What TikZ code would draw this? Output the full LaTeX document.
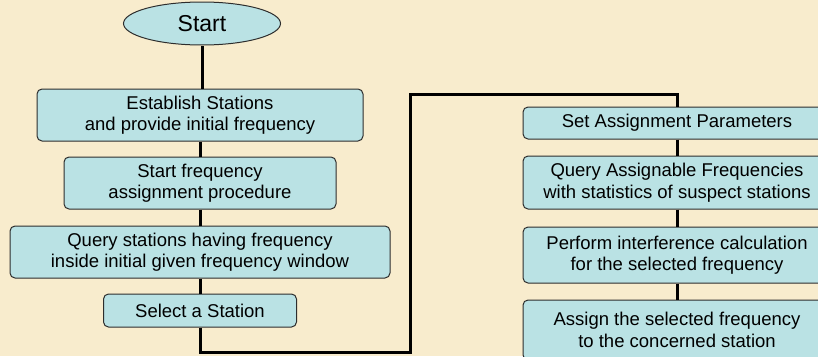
\documentclass[tikz,border=0pt]{standalone}
\usepackage{fontspec}
\setmainfont{Liberation Sans}
\usetikzlibrary{shapes.geometric}
\definecolor{bg}{RGB}{248,236,205}
\definecolor{boxfill}{RGB}{186,226,228}
\definecolor{boxline}{RGB}{45,45,45}
\tikzset{
  stepbox/.style={draw=boxline, line width=1pt, fill=boxfill, rounded corners=5pt,
    align=center, inner sep=0pt, font=\fontsize{18.5pt}{21.5pt}\selectfont},
  link/.style={line width=3pt, draw=black}
}
\begin{document}
\begin{tikzpicture}[x=1pt,y=-1pt]
\useasboundingbox (0,0) rectangle (818,356);
\clip (0,0) rectangle (818,356);
\fill[bg] (0,0) rectangle (818,356);
% left column
\node[ellipse, draw=boxline, line width=1pt, fill=boxfill, minimum width=157pt, minimum height=43pt, inner sep=0pt, font=\fontsize{23pt}{26pt}\selectfont] (start) at (202,23.5) {Start};
\node[stepbox, minimum width=326pt, minimum height=52pt] (b1) at (200,115) {Establish Stations\\and provide initial frequency};
\node[stepbox, minimum width=272pt, minimum height=52pt] (b2) at (200,183) {Start frequency\\assignment procedure};
\node[stepbox, minimum width=380pt, minimum height=52pt] (b3) at (200,252) {Query stations having frequency\\inside initial given frequency window};
\node[stepbox, minimum width=193pt, minimum height=33pt] (b4) at (200,310.5) {Select a Station};
% right column
\node[stepbox, minimum width=308pt, minimum height=32pt] (b5) at (677,123) {Set Assignment Parameters};
\node[stepbox, minimum width=308pt, minimum height=53pt] (b6) at (677,182.5) {Query Assignable Frequencies\\with statistics of suspect stations};
\node[stepbox, minimum width=308pt, minimum height=56pt] (b7) at (677,255) {Perform interference calculation\\for the selected frequency};
\node[stepbox, minimum width=308pt, minimum height=60pt] (b8) at (677,330) {Assign the selected frequency\\to the concerned station};
% connectors
\coordinate (c2) at (410,352);
\coordinate (c3) at (410,94);
\draw[link] (start.south) -- (start.south |- b1.north);
\draw[link] (b1.south) -- (b2.north);
\draw[link] (b2.south) -- (b3.north);
\draw[link] (b3.south) -- (b4.north);
\draw[link] (b4.south) |- (c2) -- (c3) -| (b5.north);
\draw[link] (b5.south) -- (b6.north);
\draw[link] (b6.south) -- (b7.north);
\draw[link] (b7.south) -- (b8.north);
\end{tikzpicture}
\end{document}
